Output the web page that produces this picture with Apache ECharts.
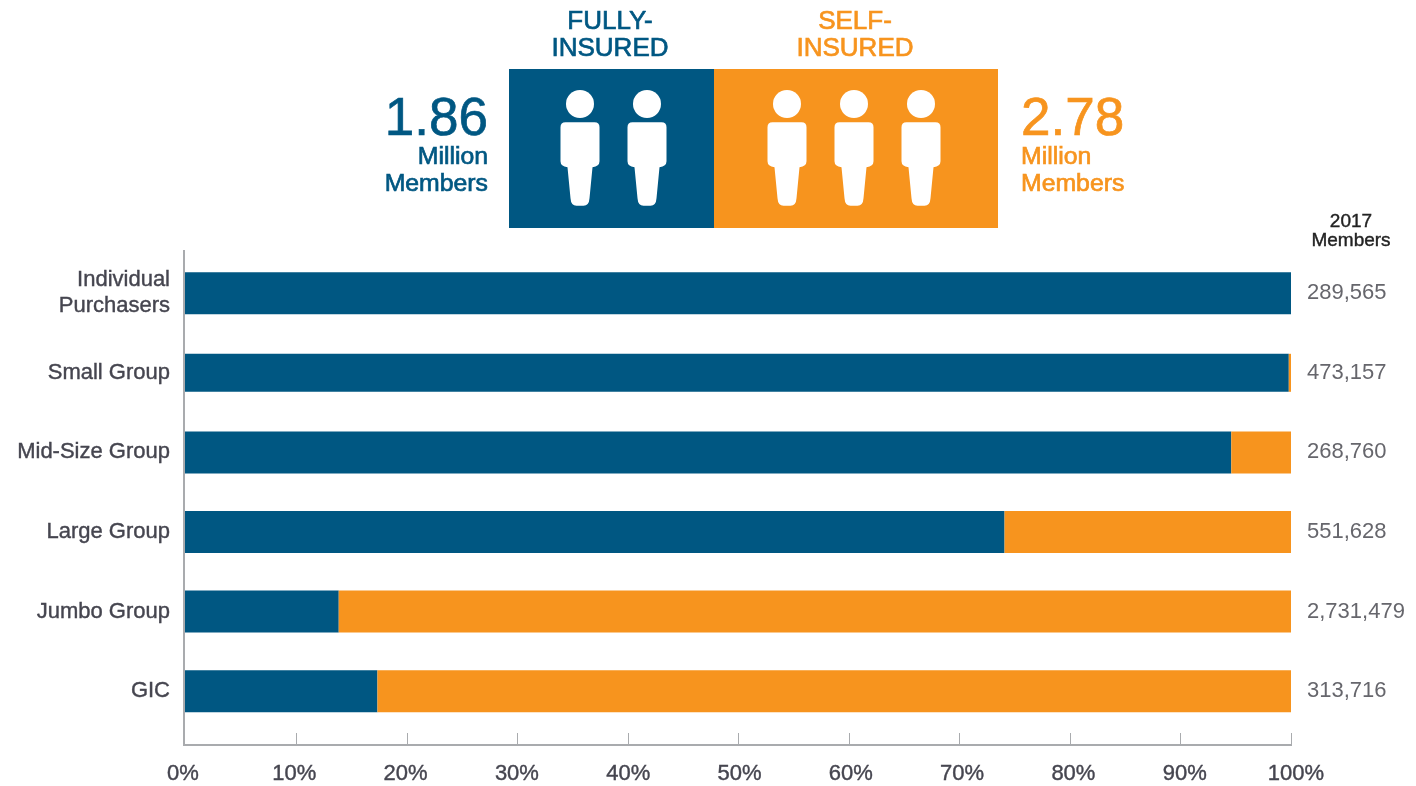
<!DOCTYPE html>
<html>
<head>
<meta charset="utf-8">
<title>2017 Members by funding type</title>
<script src="https://cdn.jsdelivr.net/npm/echarts@6/dist/echarts.min.js"></script>
<style>html,body{margin:0;padding:0;background:#fff}#c{width:1416px;height:786px}</style>
</head>
<body>
<div id="c"></div>
<script>
const categories = ['Individual\nPurchasers', 'Small Group', 'Mid-Size Group', 'Large Group', 'Jumbo Group', 'GIC'];
const fullyInsured = [100, 99.8, 94.6, 74.1, 13.9, 17.4];
const selfInsured = [0, 0.2, 5.4, 25.9, 86.1, 82.6];
const members = ['289,565', '473,157', '268,760', '551,628', '2,731,479', '313,716'];
const percentTicks = [0, 10, 20, 30, 40, 50, 60, 70, 80, 90, 100];
const narrowCategory = 'Small Group';

const BLUE = '#005782', ORANGE = '#F7941E', AXIS = '#A9ABAE', LABEL = '#45454f', FONT = '"Liberation Sans", Arial, sans-serif';
const isNarrow = i => categories[i] === narrowCategory;
const wide = arr => arr.map((v, i) => isNarrow(i) ? null : v);
const narrow = arr => arr.map((v, i) => isNarrow(i) ? v : null);

echarts.graphic.registerShape('personBody', echarts.graphic.extendShape({
  shape: { x: 0, y: 0 },
  buildPath(ctx, s) {
    const x = s.x, y = s.y;
    ctx.moveTo(x + 5, y);
    ctx.lineTo(x + 34, y);
    ctx.quadraticCurveTo(x + 39, y, x + 39, y + 5);
    ctx.lineTo(x + 39, y + 39);
    ctx.quadraticCurveTo(x + 39, y + 44, x + 32, y + 45);
    ctx.lineTo(x + 29, y + 76);
    ctx.quadraticCurveTo(x + 28.5, y + 83.5, x + 23, y + 83.5);
    ctx.lineTo(x + 16, y + 83.5);
    ctx.quadraticCurveTo(x + 10.5, y + 83.5, x + 10, y + 76);
    ctx.lineTo(x + 7, y + 45);
    ctx.quadraticCurveTo(x, y + 44, x, y + 39);
    ctx.lineTo(x, y + 5);
    ctx.quadraticCurveTo(x, y, x + 5, y);
    ctx.closePath();
  }
}));
function person(cx) {
  return [
    { type: 'circle', silent: true, shape: { cx: cx, cy: 104, r: 14 }, style: { fill: '#fff' } },
    { type: 'personBody', silent: true, shape: { x: cx - 19.5, y: 122.3 }, style: { fill: '#fff' } }
  ];
}
function label(text, x, y, size, fill, align, stroke) {
  return { type: 'text', silent: true, x: x, y: y, style: { text: text, fill: fill, stroke: fill, lineWidth: stroke === undefined ? 0.7 : stroke, font: size + 'px ' + FONT, textAlign: align || 'center', textVerticalAlign: 'middle' } };
}

const graphicElements = [
  { type: 'rect', silent: true, shape: { x: 509, y: 69, width: 205, height: 159 }, style: { fill: BLUE } },
  { type: 'rect', silent: true, shape: { x: 714, y: 69, width: 284, height: 159 }, style: { fill: ORANGE } },
  ...person(580), ...person(647), ...person(787), ...person(854), ...person(921),
  label('FULLY-', 610, 22, 26, BLUE), label('INSURED', 610, 49, 26, BLUE),
  label('SELF-', 855, 22, 26, ORANGE), label('INSURED', 855, 49, 26, ORANGE),
  label('1.86', 488, 120, 53, BLUE, 'right'), label('Million', 488, 157, 24.8, BLUE, 'right'), label('Members', 488, 184, 24.8, BLUE, 'right'),
  label('2.78', 1021, 120, 53, ORANGE, 'left'), label('Million', 1021, 157, 24.8, ORANGE, 'left'), label('Members', 1021, 184, 24.8, ORANGE, 'left'),
  label('2017', 1351, 222, 19, '#222', 'center', 0.4), label('Members', 1351, 241, 19, '#222', 'center', 0.4)
];

const chart = echarts.init(document.getElementById('c'), null, { renderer: 'canvas' });
chart.setOption({
  animation: false,
  backgroundColor: '#fff',
  graphic: { elements: graphicElements },
  grid: [
    { left: 185, width: 1106, top: 253.4, height: 477.6 },
    { left: 186, width: 1105, top: 251, height: 494 },
    { left: 183, width: 1113, top: 251, height: 494 }
  ],
  xAxis: [
    { gridIndex: 0, type: 'value', min: 0, max: 100, show: false },
    { gridIndex: 1, type: 'value', min: 0, max: 100, interval: 10, splitLine: { show: false }, axisLabel: { show: false },
      axisLine: { show: true, onZero: false, lineStyle: { color: AXIS, width: 2, cap: 'square' } },
      axisTick: { show: true, inside: true, length: 12, customValues: percentTicks.slice(1), lineStyle: { color: AXIS, width: 1 } } },
    { gridIndex: 2, type: 'value', min: 0, max: 100, interval: 10, splitLine: { show: false }, axisLine: { show: false }, axisTick: { show: false },
      axisLabel: { show: true, margin: 18, hideOverlap: false, showMinLabel: true, showMaxLabel: true, alignMinLabel: 'center', alignMaxLabel: 'center',
        formatter: v => v + '%', color: LABEL, textBorderColor: LABEL, textBorderWidth: 0.4, fontSize: 22, fontFamily: FONT } }
  ],
  yAxis: [
    { gridIndex: 0, type: 'category', inverse: true, data: categories, axisLine: { show: false }, axisTick: { show: false }, splitLine: { show: false },
      axisLabel: { margin: 15, align: 'right', color: LABEL, textBorderColor: LABEL, textBorderWidth: 0.4, fontSize: 22, lineHeight: 26, fontFamily: FONT, interval: 0 } },
    { gridIndex: 0, type: 'category', inverse: true, position: 'right', data: members, axisLine: { show: false }, axisTick: { show: false }, splitLine: { show: false },
      axisLabel: { margin: 16, align: 'left', color: '#66666c', fontSize: 22, fontFamily: FONT, interval: 0 } },
    { gridIndex: 0, type: 'category', inverse: true, data: categories, show: false },
    { gridIndex: 1, type: 'value', min: 0, max: 1, offset: 2, splitLine: { show: false }, axisLabel: { show: false }, axisTick: { show: false },
      axisLine: { show: true, onZero: false, lineStyle: { color: AXIS, width: 2, cap: 'square' } } },
    { gridIndex: 2, type: 'value', min: 0, max: 1, show: false }
  ],
  series: [
    { name: 'Fully-insured', type: 'bar', stack: 'share', silent: true, xAxisIndex: 0, yAxisIndex: 0, barWidth: 42, data: wide(fullyInsured), itemStyle: { color: BLUE } },
    { name: 'Self-insured', type: 'bar', stack: 'share', silent: true, xAxisIndex: 0, yAxisIndex: 0, barWidth: 42, data: wide(selfInsured), itemStyle: { color: ORANGE } },
    { name: 'Fully-insured (narrow)', type: 'bar', stack: 'narrowShare', silent: true, xAxisIndex: 0, yAxisIndex: 2, barWidth: 38, data: narrow(fullyInsured), itemStyle: { color: BLUE } },
    { name: 'Self-insured (narrow)', type: 'bar', stack: 'narrowShare', silent: true, xAxisIndex: 0, yAxisIndex: 2, barWidth: 38, data: narrow(selfInsured), itemStyle: { color: ORANGE } }
  ]
});
</script>
</body>
</html>
